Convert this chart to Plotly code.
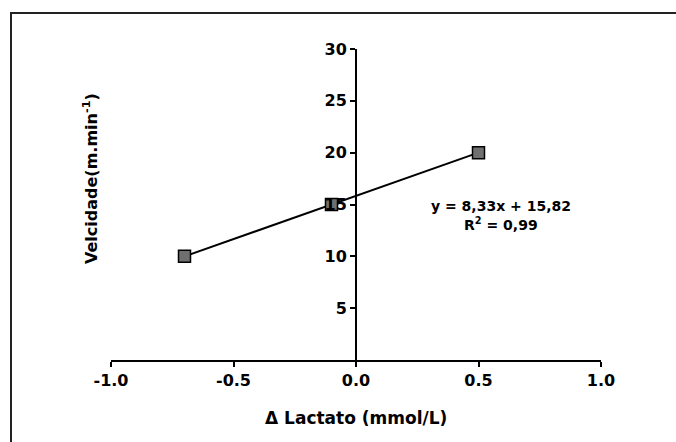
import numpy as np
import plotly.graph_objects as go

# Data
lactato = [-0.7, -0.1, 0.5]          # Δ Lactato (mmol/L)
velocidade = [10, 15, 20]            # Velocidade (m.min-1)
x_ticks = [-1.0, -0.5, 0.0, 0.5, 1.0]
x_tick_labels = ["-1.0", "-0.5", "0.0", "0.5", "1.0"]
y_ticks = [5, 10, 15, 20, 25, 30]
y_tick_labels = ["5", "10", "15", "20", "25", "30"]
equation_text = "y = 8,33x + 15,82"
r2_text = "R<sup>2</sup> = 0,99"

slope, intercept = np.polyfit(lactato, velocidade, 1)
fit_x = [min(lactato), max(lactato)]
fit_y = [slope * v + intercept for v in fit_x]

FONT = "DejaVu Sans"

fig = go.Figure()
fig.add_trace(go.Scatter(x=fit_x, y=fit_y, mode="lines",
                         line=dict(color="black", width=2), showlegend=False,
                         hoverinfo="skip"))
fig.add_trace(go.Scatter(x=lactato, y=velocidade, mode="markers",
                         marker=dict(symbol="square", size=12, color="#707070",
                                     line=dict(color="black", width=1.5)),
                         showlegend=False, cliponaxis=False))

W, H = 676, 442
L, R, T, B = 111, 75, 49, 82
pw, ph = W - L - R, H - T - B

def px_x(p):
    return (p - L) / pw

def px_y(p):
    return (H - B - p) / ph

frame = dict(color="#222222", width=2)

fig.update_layout(
    width=W, height=H,
    margin=dict(l=L, r=R, t=T, b=B),
    paper_bgcolor="white", plot_bgcolor="white",
    font=dict(family=FONT, color="black", size=16, weight="bold"),
    xaxis=dict(range=[-1, 1], tickvals=x_ticks, ticktext=x_tick_labels,
               showline=True, linecolor="black", linewidth=2,
               ticks="outside", ticklen=5, tickwidth=2, tickcolor="black",
               showgrid=False, zeroline=False,
               tickfont=dict(family=FONT, size=16, weight="bold")),
    yaxis=dict(range=[0, 30], tickvals=y_ticks, ticktext=y_tick_labels,
               anchor="free", position=0.5,
               showline=True, linecolor="black", linewidth=2,
               ticks="outside", ticklen=5, tickwidth=2, tickcolor="black",
               showgrid=False, zeroline=False,
               tickfont=dict(family=FONT, size=16, weight="bold")),
    shapes=[
        dict(type="line", xref="paper", yref="paper",
             x0=px_x(10), x1=px_x(W + 5), y0=px_y(13), y1=px_y(13),
             line=frame, layer="below"),
        dict(type="line", xref="paper", yref="paper",
             x0=px_x(11), x1=px_x(11), y0=px_y(12), y1=px_y(H + 5),
             line=frame, layer="below"),
    ],
    annotations=[
        dict(text="Velcidade(m.min<sup>-1</sup>)", xref="paper", yref="paper",
             x=px_x(90), y=px_y(179), textangle=-90, showarrow=False,
             xanchor="center", yanchor="middle",
             font=dict(family=FONT, size=16, weight="bold")),
        dict(text="\u0394 Lactato (mmol/L)", xref="paper", yref="paper",
             x=0.5, y=px_y(418), showarrow=False, xanchor="center", yanchor="middle",
             font=dict(family=FONT, size=17, weight="bold")),
        dict(text=equation_text, xref="paper", yref="paper",
             x=px_x(501), y=px_y(206), showarrow=False, xanchor="center", yanchor="middle",
             font=dict(family=FONT, size=14, weight="bold")),
        dict(text=r2_text, xref="paper", yref="paper",
             x=px_x(501), y=px_y(224), showarrow=False, xanchor="center", yanchor="middle",
             font=dict(family=FONT, size=14, weight="bold")),
    ],
)

fig.write_html("out.html", config={"displayModeBar": False})

# remove the default page margin so the figure sits at the window origin
with open("out.html", "r", encoding="utf-8") as f:
    html = f.read()
html = html.replace("<head>", "<head><style>html,body{margin:0;padding:0;overflow:hidden;}</style>", 1)
with open("out.html", "w", encoding="utf-8") as f:
    f.write(html)
